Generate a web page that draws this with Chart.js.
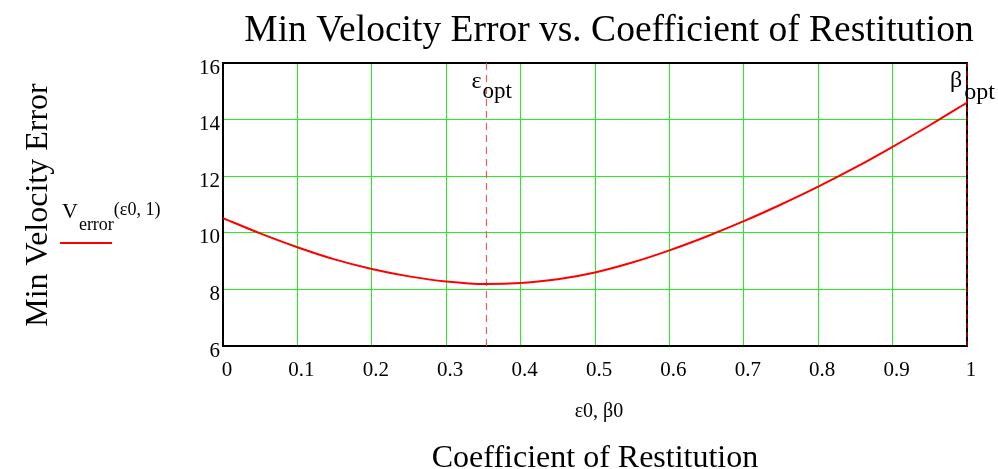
<!DOCTYPE html>
<html>
<head>
<meta charset="utf-8">
<script src="https://cdn.jsdelivr.net/npm/chart.js@4/dist/chart.umd.min.js"></script>
<style>
html, body { margin: 0; padding: 0; background: #fff; }
canvas { display: block; }
</style>
</head>
<body>
<canvas id="velChart" width="998" height="469"></canvas>
<script>
// coefficient of restitution (eps0) and min velocity error
const coeffs = [0, 0.05, 0.1, 0.15, 0.2, 0.25, 0.3, 0.354, 0.4, 0.45, 0.5, 0.55, 0.6, 0.65, 0.7, 0.75, 0.8, 0.85, 0.9, 0.95, 1];
const velErr = [10.52, 9.98, 9.49, 9.06, 8.72, 8.46, 8.28, 8.19, 8.23, 8.36, 8.60, 8.95, 9.38, 9.87, 10.41, 11.0, 11.63, 12.31, 13.04, 13.8, 14.6];
const epsOpt = 0.354;
const betaOpt = 1;
const yTicks = [6, 8, 10, 12, 14, 16];

const SERIF = '"Liberation Serif", "Times New Roman", serif';
const GRID = '#22ee22';

function subText(ctx, base, sub, x, y, size, subSize, drop, gap) {
    ctx.font = size + 'px ' + SERIF;
    ctx.fillText(base, x, y);
    const w = ctx.measureText(base).width + (gap || 1);
    ctx.font = subSize + 'px ' + SERIF;
    ctx.fillText(sub, x + w, y + drop);
    return x + w + ctx.measureText(sub).width;
}

const decorPlugin = {
    id: 'decor',
    beforeDatasetsDraw(chart) {
        const { ctx, chartArea: a } = chart;
        ctx.save();
        ctx.strokeStyle = '#000';
        ctx.lineWidth = 2;
        ctx.strokeRect(a.left, a.top, a.right - a.left, a.bottom - a.top);
        ctx.restore();
    },
    afterDraw(chart) {
        const { ctx } = chart;
        const xs = chart.scales.x;
        ctx.save();
        ctx.fillStyle = '#000';
        ctx.textBaseline = 'alphabetic';

        // title
        ctx.textAlign = 'center';
        ctx.font = '37.5px ' + SERIF;
        ctx.fillText('Min Velocity Error vs. Coefficient of Restitution', 609, 41);

        // x axis titles
        ctx.font = '20px ' + SERIF;
        ctx.fillText('\u03b50, \u03b20', 599, 417);
        ctx.font = '32px ' + SERIF;
        ctx.fillText('Coefficient of Restitution', 595, 467);

        // y axis title
        ctx.save();
        ctx.translate(47, 205);
        ctx.rotate(-Math.PI / 2);
        ctx.fillText('Min Velocity Error', 0, 0);
        ctx.restore();

        // legend
        ctx.textAlign = 'left';
        const lx = subText(ctx, 'V', 'error', 62, 218, 22, 18, 12);
        ctx.font = '18px ' + SERIF;
        ctx.fillText('(\u03b50, 1)', lx, 215);
        ctx.strokeStyle = '#ff0000';
        ctx.lineWidth = 2;
        ctx.beginPath();
        ctx.moveTo(60, 243);
        ctx.lineTo(112, 243);
        ctx.stroke();

        // marker labels
        const ex = xs.getPixelForValue(epsOpt);
        subText(ctx, '\u03b5', 'opt', ex - 15, 88, 24, 23, 10, 0);
        const bx = xs.getPixelForValue(betaOpt);
        subText(ctx, '\u03b2', 'opt', bx - 17, 87, 24, 24, 12, 2);
        ctx.restore();
    }
};

const ctx = document.getElementById('velChart').getContext('2d');
const chart = new Chart(ctx, {
    type: 'line',
    data: {
        datasets: [
            {
                label: 'Verror(eps0, 1)',
                data: coeffs.map((c, i) => ({ x: c, y: velErr[i] })),
                borderColor: '#ff0000',
                borderWidth: 2,
                pointRadius: 0,
                cubicInterpolationMode: 'monotone'
            },
            {
                label: 'eps opt',
                data: [{ x: epsOpt, y: 6 }, { x: epsOpt, y: 16 }],
                borderColor: '#ff4040',
                borderWidth: 1,
                borderDash: [7, 5],
                pointRadius: 0
            },
            {
                label: 'beta opt',
                data: [{ x: betaOpt, y: 6 }, { x: betaOpt, y: 16 }],
                borderColor: '#ff0000',
                borderWidth: 1,
                borderDash: [5, 4],
                pointRadius: 0,
                clip: false
            }
        ]
    },
    options: {
        responsive: false,
        animation: false,
        devicePixelRatio: 1,
        layout: { padding: { top: 63, right: 31, left: 0, bottom: 0 } },
        scales: {
            x: {
                type: 'linear',
                min: 0,
                max: 1,
                afterFit: s => { s.height = 123; },
                border: { display: false },
                grid: {
                    color: ctx => (ctx.tick && (ctx.tick.value <= 0 || ctx.tick.value >= 1)) ? 'rgba(0,0,0,0)' : GRID,
                    lineWidth: 1,
                    drawTicks: false
                },
                ticks: {
                    stepSize: 0.1,
                    padding: 12,
                    labelOffset: 4,
                    maxRotation: 0,
                    color: '#000',
                    font: { family: SERIF, size: 21 },
                    callback: v => Number(v.toFixed(1)).toString()
                }
            },
            y: {
                min: yTicks[0],
                max: yTicks[yTicks.length - 1],
                afterFit: s => { s.width = 223; },
                afterBuildTicks: s => { s.ticks = yTicks.map(v => ({ value: v })); },
                border: { display: false },
                grid: {
                    color: ctx => (ctx.tick && (ctx.tick.value <= 6 || ctx.tick.value >= 16)) ? 'rgba(0,0,0,0)' : GRID,
                    lineWidth: 1,
                    drawTicks: false
                },
                ticks: {
                    padding: 3,
                    labelOffset: 5,
                    color: '#000',
                    font: { family: SERIF, size: 21 }
                }
            }
        },
        plugins: {
            legend: { display: false },
            tooltip: { enabled: false }
        }
    },
    plugins: [decorPlugin]
});
</script>
</body>
</html>
